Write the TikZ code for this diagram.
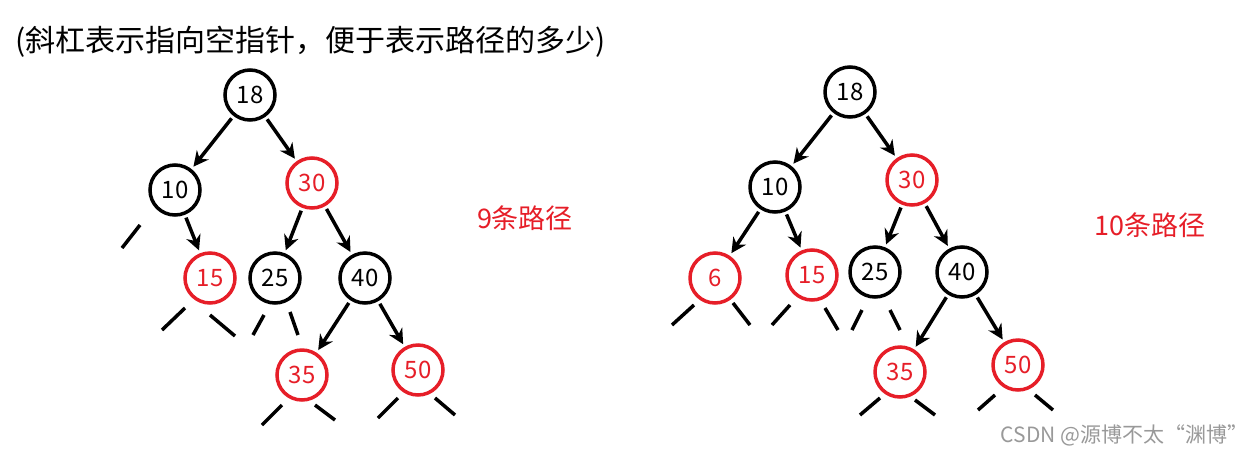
\documentclass[tikz,border=0pt]{standalone}
\usepackage{fontspec}
\setmainfont{Noto Sans CJK SC}
\usetikzlibrary{arrows.meta}
\definecolor{rd}{RGB}{230,30,40}
\begin{document}
\begin{tikzpicture}[x=1pt,y=-1pt,
  bn/.style={circle,draw=black,line width=3.5pt,minimum size=50pt,inner sep=0pt,font=\fontsize{24}{24}\selectfont},
  rn/.style={bn,draw=rd,text=rd},
  ar/.style={-{Stealth[length=15pt,width=15pt]},line width=3.5pt,shorten >=3pt,shorten <=3pt},
  nl/.style={line width=3.5pt}]
\useasboundingbox (0,0) rectangle (1255,456);
\node[anchor=west,font=\fontsize{30}{30}\selectfont] (t) at (12,42) {(斜杠表示指向空指针，便于表示路径的多少)};
% left tree
\node[bn] (a18) at (250,95) {18};
\node[bn] (a10) at (175,190) {10};
\node[rn] (a30) at (312,183) {30};
\node[rn] (a15) at (210,278) {15};
\node[bn] (a25) at (275,278) {25};
\node[bn] (a40) at (365,278) {40};
\node[rn] (a35) at (302,375) {35};
\node[rn] (a50) at (418,370) {50};
\foreach \p/\c in {a18/a10,a18/a30,a10/a15,a30/a25,a30/a40,a40/a35,a40/a50} \draw[ar] (\p) -- (\c);
\draw[nl] (122,248) -- (140,225);
\draw[nl] (162,330) -- (185,308); \draw[nl] (210,315) -- (235,336);
\draw[nl] (253,335) -- (264,315); \draw[nl] (290,312) -- (298,335);
\draw[nl] (262,425) -- (282,405); \draw[nl] (315,405) -- (335,420);
\draw[nl] (378,418) -- (398,398); \draw[nl] (435,398) -- (455,415);
\node[text=rd,font=\fontsize{27}{27}\selectfont] (l9) at (525,218) {9条路径};
% right tree
\node[bn] (b18) at (850,92) {18};
\node[bn] (b10) at (775,187) {10};
\node[rn] (b30) at (912,180) {30};
\node[rn] (b6) at (715,278) {6};
\node[rn] (b15) at (812,275) {15};
\node[bn] (b25) at (875,272) {25};
\node[bn] (b40) at (962,272) {40};
\node[rn] (b35) at (900,372) {35};
\node[rn] (b50) at (1018,365) {50};
\foreach \p/\c in {b18/b10,b18/b30,b10/b6,b10/b15,b30/b25,b30/b40,b40/b35,b40/b50} \draw[ar] (\p) -- (\c);
\draw[nl] (672,325) -- (694,305); \draw[nl] (733,303) -- (750,325);
\draw[nl] (772,325) -- (790,305); \draw[nl] (825,308) -- (838,330);
\draw[nl] (852,330) -- (862,310); \draw[nl] (890,310) -- (900,330);
\draw[nl] (860,415) -- (880,398); \draw[nl] (915,400) -- (935,415);
\draw[nl] (978,410) -- (995,395); \draw[nl] (1035,395) -- (1053,410);
\node[text=rd,font=\fontsize{27}{27}\selectfont] (l10) at (1150,225) {10条路径};
\node[text=gray!80,font=\fontsize{21}{21}\selectfont,anchor=east] (w) at (1252,435) {CSDN @源博不太“渊博”};
\end{tikzpicture}
\end{document}
